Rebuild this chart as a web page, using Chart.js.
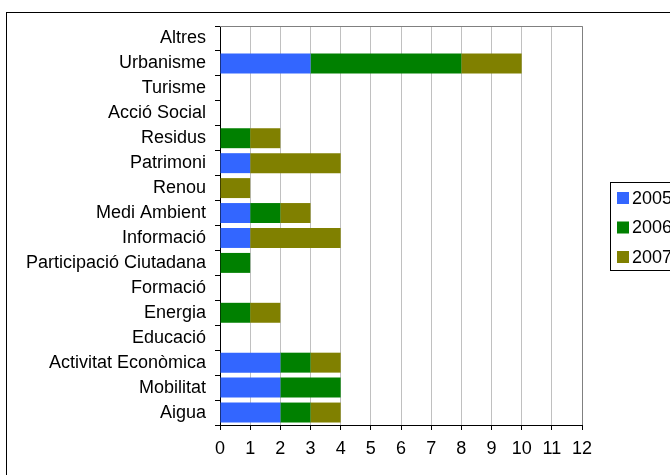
<!DOCTYPE html>
<html>
<head>
<meta charset="utf-8">
<script src="https://cdn.jsdelivr.net/npm/chart.js@4/dist/chart.umd.min.js"></script>
<style>
  html, body { margin: 0; padding: 0; background: #fff; }
  #wrap { width: 670px; height: 475px; position: relative; }
</style>
</head>
<body>
<div id="wrap"><canvas id="chart" width="670" height="475"></canvas></div>
<script>
// Dades del gràfic
const categories = ['Altres', 'Urbanisme', 'Turisme', 'Acció Social', 'Residus', 'Patrimoni', 'Renou',
    'Medi Ambient', 'Informació', 'Participació Ciutadana', 'Formació', 'Energia', 'Educació',
    'Activitat Econòmica', 'Mobilitat', 'Aigua'];
const years = ['2005', '2006', '2007'];
const values2005 = [0, 3, 0, 0, 0, 1, 0, 1, 1, 0, 0, 0, 0, 2, 2, 2];
const values2006 = [0, 5, 0, 0, 1, 0, 0, 1, 0, 1, 0, 1, 0, 1, 2, 1];
const values2007 = [0, 2, 0, 0, 1, 3, 1, 1, 3, 0, 0, 1, 0, 1, 0, 1];
const xTicks = [0, 1, 2, 3, 4, 5, 6, 7, 8, 9, 10, 11, 12];

const colors = ['#3366ff', '#008000', '#808000'];
const font = { family: 'Liberation Sans, Arial, sans-serif', size: 18 };

// Marc exterior, vores de l'àrea de traçat i llegenda
const decor = {
    id: 'decor',
    afterDraw(chart) {
        const c = chart.ctx;
        const a = chart.chartArea;
        c.save();
        c.strokeStyle = '#808080';
        c.lineWidth = 1;
        c.beginPath();
        c.moveTo(a.left, a.top + 0.5);
        c.lineTo(a.right + 0.5, a.top + 0.5);
        c.lineTo(a.right + 0.5, a.bottom);
        c.stroke();

        c.strokeStyle = '#000';
        c.strokeRect(6.5, 12.5, 720, 520);

        // llegenda
        c.strokeRect(610.5, 182.5, 100, 88);
        c.font = font.size + 'px ' + font.family;
        c.textBaseline = 'middle';
        c.textAlign = 'left';
        chart.data.datasets.forEach((ds, i) => {
            const y = 198 + i * 29.5;
            c.fillStyle = ds.backgroundColor;
            c.fillRect(617, y - 6, 12, 12);
            c.fillStyle = '#000';
            c.fillText(ds.label, 632, y + 1);
        });
        c.restore();
    }
};

const series = [values2005, values2006, values2007];

new Chart(document.getElementById('chart'), {
    type: 'bar',
    data: {
        labels: categories,
        datasets: years.map((y, i) => ({
            label: y,
            data: series[i],
            backgroundColor: colors[i],
            borderWidth: 0,
            categoryPercentage: 1,
            barPercentage: 0.8
        }))
    },
    options: {
        indexAxis: 'y',
        responsive: false,
        animation: false,
        layout: { padding: { top: 26, right: 88, left: 0, bottom: 0 } },
        plugins: { legend: { display: false }, tooltip: { enabled: false } },
        scales: {
            x: {
                stacked: true,
                min: 0,
                max: 12,
                afterBuildTicks: s => { s.ticks = xTicks.map(v => ({ value: v })); },
                afterFit: s => { s.height = 50; },
                grid: { color: '#c0c0c0', tickColor: '#000', tickLength: 5 },
                border: { color: '#000' },
                ticks: { color: '#000', font: font, padding: 8, maxRotation: 0 }
            },
            y: {
                stacked: true,
                afterFit: s => { s.width = 220; },
                grid: { offset: true, drawOnChartArea: false, tickColor: '#000', tickLength: 5 },
                border: { color: '#000' },
                ticks: { color: '#000', font: font, padding: 9, autoSkip: false }
            }
        }
    },
    plugins: [decor]
});
</script>
</body>
</html>
